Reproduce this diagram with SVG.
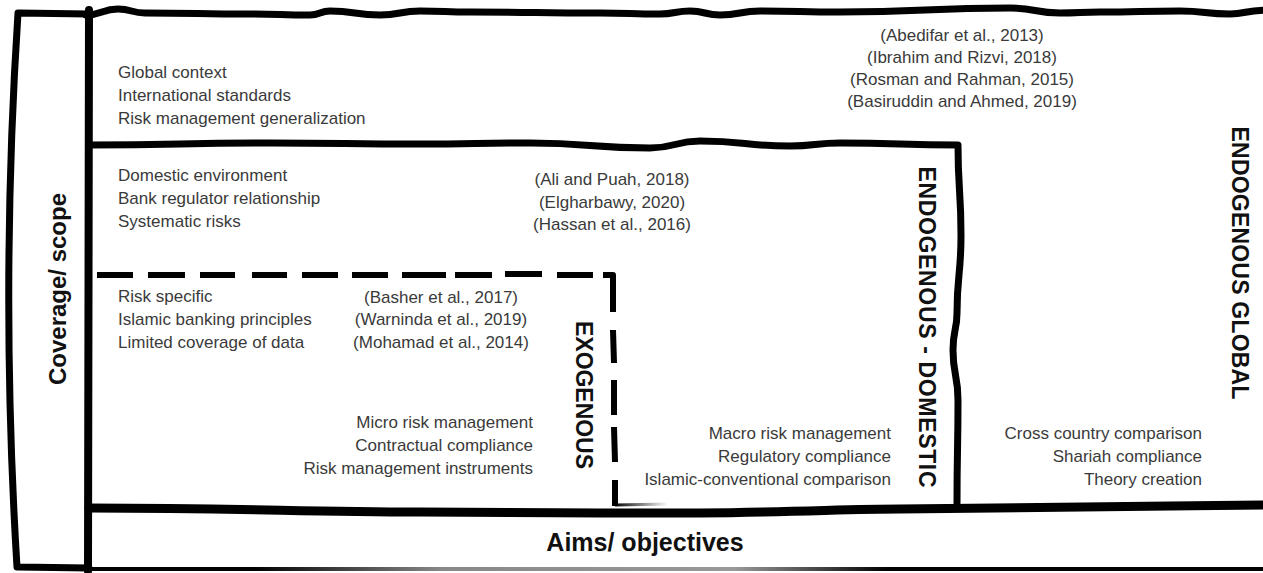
<svg xmlns="http://www.w3.org/2000/svg" width="1263" height="573" viewBox="0 0 1263 573">
<defs>
<style>
.ln{fill:none;stroke:#000;stroke-width:7;stroke-linecap:round;stroke-linejoin:round}
.dash{fill:none;stroke:#000;stroke-width:6;stroke-linecap:butt;stroke-linejoin:round}
.t{font-family:"Liberation Sans",Arial,sans-serif;font-size:17px;fill:#3a3a3a}
.b{font-family:"Liberation Sans",Arial,sans-serif;font-weight:bold;fill:#111}
.m{text-anchor:middle}
.e{text-anchor:end}
</style>
<linearGradient id="fadeBottom" gradientUnits="userSpaceOnUse" x1="89" y1="0" x2="1263" y2="0">
<stop offset="0" stop-color="#000"/>
<stop offset="0.14" stop-color="#000"/>
<stop offset="0.3" stop-color="#888"/>
<stop offset="0.55" stop-color="#999"/>
<stop offset="0.68" stop-color="#000"/>
<stop offset="1" stop-color="#000"/>
</linearGradient>
<linearGradient id="fadeShort" gradientUnits="userSpaceOnUse" x1="614" y1="0" x2="668" y2="0">
<stop offset="0" stop-color="#000"/>
<stop offset="1" stop-color="#000" stop-opacity="0"/>
</linearGradient>
</defs>

<g id="boundaries">
<path class="ln" d="M 89 14 L 18 13 Q 0 290 17 567 L 89 568"/>
<path class="ln" style="stroke-width:8" d="M 89 10 L 88 571"/>
<path class="ln" d="M 86 15 C 102 15 102 9 118 9 C 131.5 9 131.5 13 145 13 C 197.5 13 197.5 14 250 14 C 280 14 280 15 310 15 C 320 15 320 11 330 11 C 355 11 355 15 380 15 C 400 15 400 11 420 11 C 445 11 445 12 470 12 C 535 12 535 13 600 13 C 630 13 630 14 660 14 C 675 14 675 11 690 11 C 705 11 705 15 720 15 C 740 15 740 11 760 11 C 800 11 800 12 840 12 C 925 12 925 8 1010 8 C 1035 8 1035 13 1060 13 C 1080 13 1080 12 1100 12 C 1140 12 1140 11 1180 11 C 1205 11 1205 14 1230 14 C 1246 14 1246 10 1270 10"/>
<path class="ln" d="M 89 145 C 180 145 180 143 270 143 C 345 143 345 144 420 144 C 475 144 475 143 530 143 C 590 143 590 148 650 148 C 675 148 675 141 700 141 C 745 141 745 146 790 146 C 815 146 815 143 840 143 C 900 143 900 145 958 145 C 958 190 961 190 961 235 C 961 275 957 275 957 313 C 957 330 953 330 953 350 C 953 375 958 375 958 400 C 958 450 957 450 957 503"/>
<path class="dash" d="M 97 275 L 133 275 M 148 275 L 185 275 M 200 275 L 235 275 M 252 275 L 287 275 M 302 275 L 338 275 M 352 275 L 388 275 M 402 275 L 446 275 M 455 275 L 492 275 M 505 274 L 542 274 M 557 275 L 593 275 M 603 275 L 613 275 L 613 312 M 613 330 L 614 363 M 614 380 L 614 415 M 614 427 L 615 462 M 615 480 L 615 506"/>
<path d="M 615 505 L 668 504" fill="none" stroke="url(#fadeShort)" stroke-width="3"/>
<path class="ln" style="stroke-width:9" d="M 89 508 C 250 508 300 512 420 512 C 550 513 600 513 700 513 C 800 512 850 509 900 509 C 1050 507 1150 506 1270 505"/>
<path d="M 89 569 L 1270 569" fill="none" stroke="url(#fadeBottom)" stroke-width="4"/>
</g>

<g id="scope">
<text class="b m" font-size="24" transform="translate(66 289) rotate(-90)">Coverage/ scope</text>
</g>

<g id="aims">
<text class="b m" font-size="25" x="645" y="551">Aims/ objectives</text>
</g>

<g id="global">
<text class="t" x="118" y="78">Global context</text>
<text class="t" x="118" y="101">International standards</text>
<text class="t" x="118" y="124">Risk management generalization</text>
<text class="t m" x="962" y="41">(Abedifar et al., 2013)</text>
<text class="t m" x="962" y="63">(Ibrahim and Rizvi, 2018)</text>
<text class="t m" x="962" y="85">(Rosman and Rahman, 2015)</text>
<text class="t m" x="962" y="107">(Basiruddin and Ahmed, 2019)</text>
<text class="t e" x="1202" y="439">Cross country comparison</text>
<text class="t e" x="1202" y="462">Shariah compliance</text>
<text class="t e" x="1202" y="485">Theory creation</text>
<text class="b m" font-size="23" textLength="273" transform="translate(1232 263) rotate(90)">ENDOGENOUS GLOBAL</text>
</g>

<g id="domestic">
<text class="t" x="118" y="181">Domestic environment</text>
<text class="t" x="118" y="204">Bank regulator relationship</text>
<text class="t" x="118" y="227">Systematic risks</text>
<text class="t m" x="612" y="185">(Ali and Puah, 2018)</text>
<text class="t m" x="612" y="208">(Elgharbawy, 2020)</text>
<text class="t m" x="612" y="230">(Hassan et al., 2016)</text>
<text class="t e" x="891" y="439">Macro risk management</text>
<text class="t e" x="891" y="462">Regulatory compliance</text>
<text class="t e" x="891" y="485">Islamic-conventional comparison</text>
<text class="b m" font-size="23" textLength="321" transform="translate(919 327) rotate(90)">ENDOGENOUS - DOMESTIC</text>
</g>

<g id="exogenous">
<text class="t" x="118" y="302">Risk specific</text>
<text class="t" x="118" y="325">Islamic banking principles</text>
<text class="t" x="118" y="348">Limited coverage of data</text>
<text class="t m" x="441" y="303">(Basher et al., 2017)</text>
<text class="t m" x="441" y="325">(Warninda et al., 2019)</text>
<text class="t m" x="441" y="348">(Mohamad et al., 2014)</text>
<text class="t e" x="533" y="428">Micro risk management</text>
<text class="t e" x="533" y="451">Contractual compliance</text>
<text class="t e" x="533" y="474">Risk management instruments</text>
<text class="b m" font-size="23" textLength="148" transform="translate(576 395) rotate(90)">EXOGENOUS</text>
</g>
</svg>
